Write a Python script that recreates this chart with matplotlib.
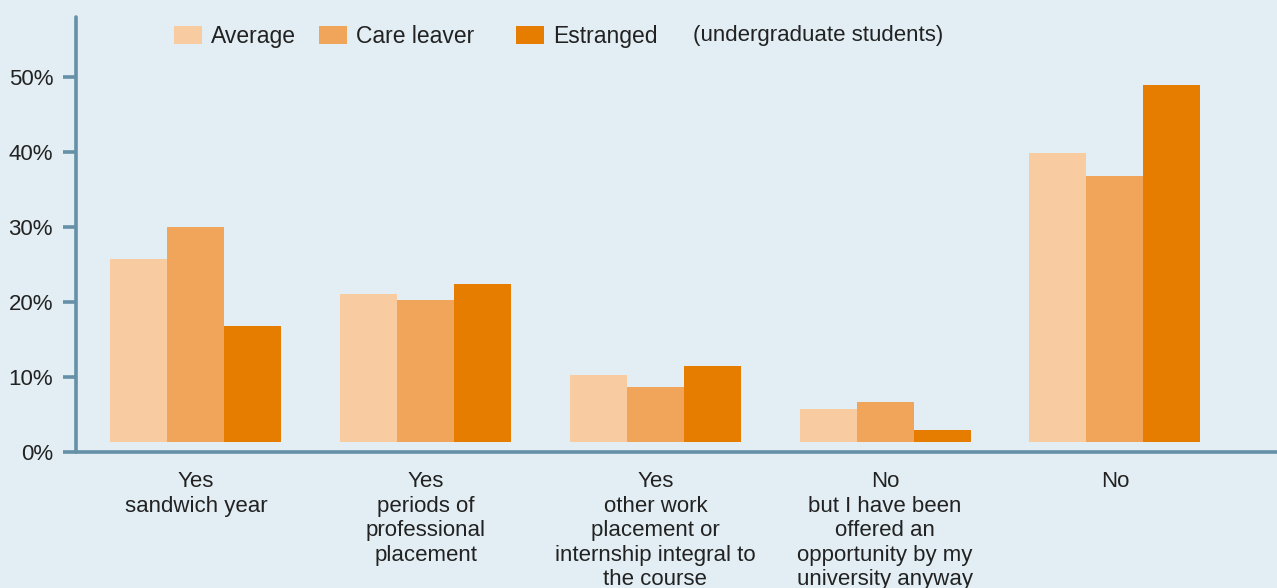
import numpy as np
import matplotlib.pyplot as plt
from matplotlib.ticker import FuncFormatter

categories = ["Yes\nsandwich year",
              "Yes\nperiods of\nprofessional\nplacement",
              "Yes\nother work\nplacement or\ninternship integral to\nthe course",
              "No\nbut I have been\noffered an\nopportunity by my\nuniversity anyway",
              "No"]
series = ["Average", "Care leaver", "Estranged"]
average = [25.7, 21.1, 10.3, 5.7, 39.9]
care_leaver = [30.0, 20.3, 8.7, 6.7, 36.8]
estranged = [16.8, 22.4, 11.5, 2.9, 48.9]
yticks = [0, 10, 20, 30, 40, 50]

colors = ["#f8cba1", "#f0a55a", "#e67c00"]
bg = "#e2eef3"
axis_col = "#6590a8"
text_col = "#222222"

plt.rcParams['font.family'] = ['Liberation Sans', 'DejaVu Sans']

fig = plt.figure(figsize=(12.77, 5.88), dpi=100, facecolor=bg)
ax = fig.add_axes([76/1277, 136/588, 1 - 76/1277, (452-17)/588])
ax.set_facecolor(bg)

x = np.arange(len(categories))
w = 0.248
base = 1.4
bars = []
for i, (vals, c, name) in enumerate(zip([average, care_leaver, estranged], colors, series)):
    v = np.array(vals)
    bars.append(ax.bar(x + (i - 1) * w, v - base, w, bottom=base, color=c,
                       label=name, linewidth=0))

ax.set_xlim(-0.522, 4.706)
ax.set_ylim(0, 58)
ax.set_yticks(yticks)
ax.yaxis.set_major_formatter(FuncFormatter(lambda v, p: f"{v:.0f}%"))
ax.set_xticks(x)
ax.set_xticklabels(categories, fontsize=16, color=text_col, linespacing=1.21)

for s in ["top", "right"]:
    ax.spines[s].set_visible(False)
for s in ["left", "bottom"]:
    ax.spines[s].set_color(axis_col)
    ax.spines[s].set_linewidth(2.6)
    ax.spines[s].set_capstyle("round")
ax.tick_params(axis="y", length=9.5, width=2.6, color=axis_col, pad=7,
               labelsize=16, labelcolor=text_col)
ax.tick_params(axis="x", length=0, pad=14)
for t in ax.yaxis.get_major_ticks():
    t.tick1line.set_solid_capstyle("round")

leg_kw = dict(loc="upper left", bbox_transform=fig.transFigure, frameon=False,
              fontsize=16.5, handlelength=1.22, handleheight=0.79,
              handletextpad=0.4, columnspacing=1.0, borderpad=0, borderaxespad=0)
leg1 = ax.legend(bars[:2], series[:2], ncol=2,
                 bbox_to_anchor=(174/1277, 1 - 25/588), **leg_kw)
for t in leg1.get_texts():
    t.set_color(text_col)
ax.add_artist(leg1)
leg2 = ax.legend(bars[2:], series[2:], ncol=1,
                 bbox_to_anchor=(516/1277, 1 - 25/588), **leg_kw)
for t in leg2.get_texts():
    t.set_color(text_col)

fig.text(693/1277, 1 - 36/588, "(undergraduate students)", fontsize=16,
         color=text_col, va="center", ha="left")

fig.savefig("out.png", facecolor=bg)
